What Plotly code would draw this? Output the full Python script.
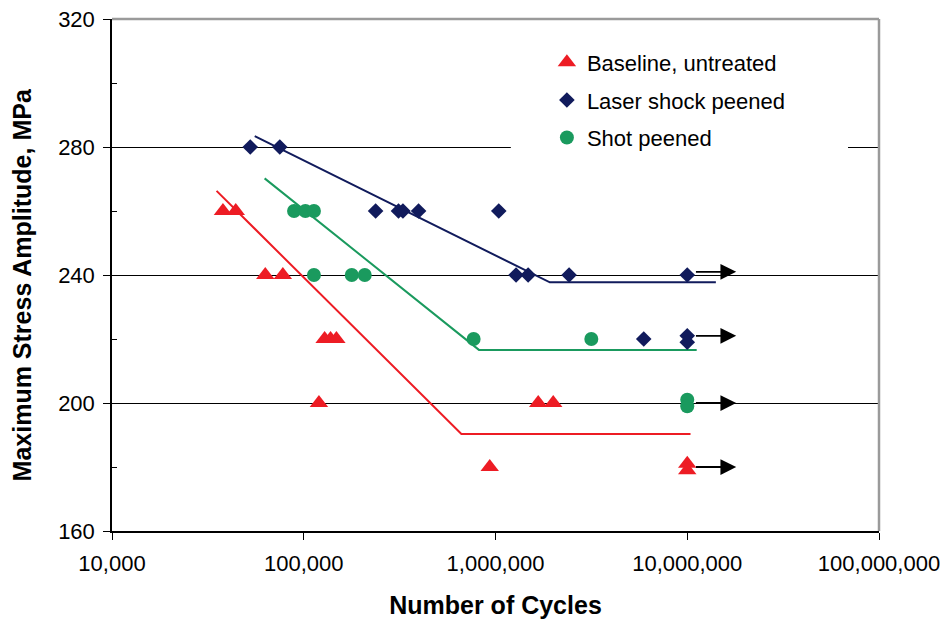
import math
import plotly.graph_objects as go

# ---------------- data ----------------
base_cycles = [37900, 44200, 63000, 77800, 128500, 138000, 148000, 120000,
               933000, 1670000, 2000000, 10000000, 10000000]
base_stress = [260, 260, 240, 240, 220, 220, 220, 200, 180, 200, 200, 181, 179]

lsp_cycles = [52600, 75000, 237000, 312000, 329000, 397000, 1040000,
              1280000, 1480000, 2420000, 10000000, 5930000, 10000000, 10000000]
lsp_stress = [280, 280, 260, 260, 260, 260, 260, 240, 240, 240, 240, 220, 221, 219]

shot_cycles = [89000, 102000, 113000, 113000, 178000, 208000, 769000,
               3160000, 10000000, 10000000]
shot_stress = [260, 260, 260, 240, 240, 240, 220, 220, 201, 199]

base_fit_cycles = [35100, 664000, 10400000]
base_fit_stress = [266.3, 190.3, 190.3]
lsp_fit_cycles = [55500, 1920000, 14100000]
lsp_fit_stress = [283.4, 237.7, 237.7]
shot_fit_cycles = [62500, 820000, 11200000]
shot_fit_stress = [270.2, 216.6, 216.6]

# run-outs (unbroken specimens) at 10 million cycles
runout_cycles = 10000000
runout_stress = [241, 221, 200, 180]

x_tickvals = [1e4, 1e5, 1e6, 1e7, 1e8]
x_ticktext = ["10,000", "100,000", "1,000,000", "10,000,000", "100,000,000"]
y_tickvals = [160, 200, 240, 280, 320]

series_names = ["Baseline, untreated", "Laser shock peened", "Shot peened"]
x_title = "Number of Cycles"
y_title = "Maximum Stress Amplitude, MPa"

# ---------------- style ----------------
RED = "#ED1C24"
NAVY = "#111B5C"
GREEN = "#1A9A5E"
FONT = "Liberation Sans, Arial, sans-serif"

fig = go.Figure()

# fit lines
for xs, ys, c in [(base_fit_cycles, base_fit_stress, RED),
                  (lsp_fit_cycles, lsp_fit_stress, NAVY),
                  (shot_fit_cycles, shot_fit_stress, GREEN)]:
    fig.add_trace(go.Scatter(x=xs, y=ys, mode="lines", showlegend=False,
                             line=dict(color=c, width=2), hoverinfo="skip"))

# data points
fig.add_trace(go.Scatter(x=base_cycles, y=base_stress, mode="markers",
                         name=series_names[0], legendgroup="a",
                         marker=dict(symbol="triangle-up", size=16, color=RED)))
fig.add_trace(go.Scatter(x=lsp_cycles, y=lsp_stress, mode="markers",
                         name=series_names[1], legendgroup="b",
                         marker=dict(symbol="diamond", size=12, color=NAVY)))
fig.add_trace(go.Scatter(x=shot_cycles, y=shot_stress, mode="markers",
                         name=series_names[2], legendgroup="c",
                         marker=dict(symbol="circle", size=14, color=GREEN)))

# run-out arrows
annotations = []
for s in runout_stress:
    annotations.append(dict(
        x=math.log10(runout_cycles * 1.8), y=s,
        ax=math.log10(runout_cycles * 1.09), ay=s,
        xref="x", yref="y", axref="x", ayref="y",
        text="", showarrow=True, arrowhead=2, arrowsize=1.75,
        arrowwidth=1.8, arrowcolor="black", standoff=0, startstandoff=0))

# y axis title
annotations.append(dict(
    text="<b>" + y_title + "</b>", xref="paper", yref="paper",
    x=-0.1175, y=0.4814, xanchor="center", yanchor="middle", textangle=-90,
    showarrow=False, font=dict(size=25, family=FONT, color="black")))

shapes = [
    # white box behind the legend (interrupts the grid line)
    dict(type="rect", xref="paper", yref="paper", x0=0.52, x1=0.9596,
         y0=0.70, y1=0.80, fillcolor="white", line=dict(width=0), layer="above"),
    # gray top and right borders
    dict(type="line", xref="paper", yref="paper", x0=0, x1=1, y0=1, y1=1,
         line=dict(color="#9A9A9A", width=2.5), layer="above"),
    dict(type="line", xref="paper", yref="paper", x0=1, x1=1, y0=0, y1=1,
         line=dict(color="#9A9A9A", width=2.5), layer="above"),
]

fig.update_layout(
    width=946, height=619,
    margin=dict(l=112, r=67, t=19, b=88, autoexpand=False),
    paper_bgcolor="white", plot_bgcolor="white",
    font=dict(family=FONT, size=22, color="black"),
    showlegend=True,
    legend=dict(x=0.567, y=0.956, xanchor="left", yanchor="top",
                bgcolor="rgba(0,0,0,0)", font=dict(size=22),
                tracegroupgap=6),
    annotations=annotations,
    shapes=shapes,
    xaxis=dict(type="log", range=[4, 8], tickvals=x_tickvals, ticktext=x_ticktext,
               automargin=False,
               showgrid=False, zeroline=False, showline=True, linecolor="black",
               linewidth=1.5, ticks="outside", ticklen=7, tickcolor="black",
               tickwidth=1, ticklabelstandoff=5,
               title=dict(text="<b>" + x_title + "</b>", font=dict(size=25),
                          standoff=23)),
    yaxis=dict(range=[160, 320], tickvals=y_tickvals, showgrid=True,
               automargin=False,
               gridcolor="black", gridwidth=1, zeroline=False, showline=True,
               linecolor="black", linewidth=1.5, ticks="outside", ticklen=7,
               tickcolor="black", tickwidth=1, ticklabelstandoff=4,
               minor=dict(ticks="inside", ticklen=5, dtick=20, tickcolor="black",
                          showgrid=False)),
)

fig.write_html("out.html")
